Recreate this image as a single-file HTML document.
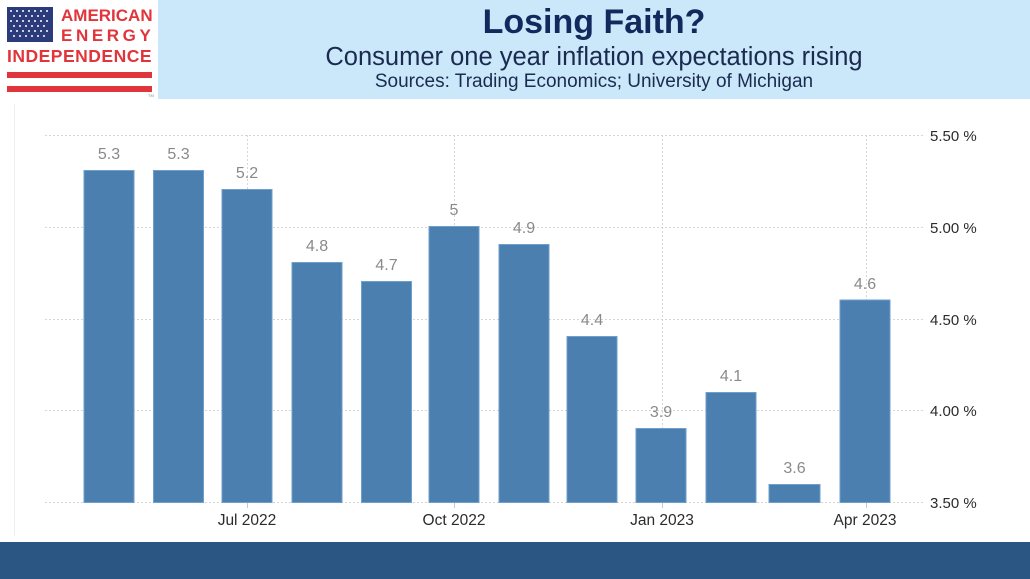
<!DOCTYPE html>
<html>
<head>
<meta charset="utf-8">
<style>
  html,body{margin:0;padding:0;background:#fff;}
  body{width:1030px;height:579px;overflow:hidden;position:relative;font-family:"Liberation Sans",Arial,sans-serif;}
  .hdr{position:absolute;left:158px;top:0;width:872px;height:99px;background:#cbe8fb;}
  .t1{position:absolute;left:158px;width:872px;top:2px;text-align:center;font-weight:bold;font-size:34px;color:#11295c;line-height:40px;}
  .t2{position:absolute;left:158px;width:872px;top:42px;text-align:center;font-size:25.5px;color:#1b2b50;line-height:30px;}
  .t3{position:absolute;left:158px;width:872px;top:71px;text-align:center;font-size:19px;color:#1b2b50;line-height:22px;}
  .footer{position:absolute;left:0;top:542px;width:1030px;height:37px;background:#2b5582;}
  .lg{position:absolute;color:#e0353b;font-weight:bold;white-space:nowrap;}
</style>
</head>
<body>
<div class="hdr"></div>
<div class="t1">Losing Faith?</div>
<div class="t2">Consumer one year inflation expectations rising</div>
<div class="t3">Sources: Trading Economics; University of Michigan</div>

<!-- logo -->
<svg style="position:absolute;left:0;top:0" width="158" height="100">
  <rect x="7" y="7" width="46" height="35" fill="#2c3b7c"/>
  <g fill="#ffffff">
    <circle cx="11" cy="11" r="1"/><circle cx="17" cy="11" r="1"/><circle cx="23" cy="11" r="1"/><circle cx="29" cy="11" r="1"/><circle cx="35" cy="11" r="1"/><circle cx="41" cy="11" r="1"/><circle cx="47" cy="11" r="1"/>
    <circle cx="14" cy="16" r="1"/><circle cx="20" cy="16" r="1"/><circle cx="26" cy="16" r="1"/><circle cx="32" cy="16" r="1"/><circle cx="38" cy="16" r="1"/><circle cx="44" cy="16" r="1"/>
    <circle cx="11" cy="21" r="1"/><circle cx="17" cy="21" r="1"/><circle cx="23" cy="21" r="1"/><circle cx="29" cy="21" r="1"/><circle cx="35" cy="21" r="1"/><circle cx="41" cy="21" r="1"/><circle cx="47" cy="21" r="1"/>
    <circle cx="14" cy="26" r="1"/><circle cx="20" cy="26" r="1"/><circle cx="26" cy="26" r="1"/><circle cx="32" cy="26" r="1"/><circle cx="38" cy="26" r="1"/><circle cx="44" cy="26" r="1"/>
    <circle cx="11" cy="31" r="1"/><circle cx="17" cy="31" r="1"/><circle cx="23" cy="31" r="1"/><circle cx="29" cy="31" r="1"/><circle cx="35" cy="31" r="1"/><circle cx="41" cy="31" r="1"/><circle cx="47" cy="31" r="1"/>
    <circle cx="14" cy="36" r="1"/><circle cx="20" cy="36" r="1"/><circle cx="26" cy="36" r="1"/><circle cx="32" cy="36" r="1"/><circle cx="38" cy="36" r="1"/><circle cx="44" cy="36" r="1"/>
  </g>
  <rect x="7" y="72" width="145" height="6" fill="#e0353b"/>
  <rect x="7" y="86" width="145" height="6" fill="#e0353b"/>
  <text x="148" y="97" font-size="4" fill="#888" font-family="Liberation Sans, sans-serif">TM</text>
</svg>
<div class="lg" style="left:61px;top:6px;font-size:17px;line-height:20px;">AMERICAN</div>
<div class="lg" style="left:61px;top:26px;font-size:17px;line-height:20px;letter-spacing:3.6px;">ENERGY</div>
<div class="lg" style="left:7px;top:46px;font-size:17.5px;line-height:20px;letter-spacing:0.5px;">INDEPENDENCE</div>

<!-- chart -->
<svg style="position:absolute;left:0;top:0" width="1030" height="579" font-family="Liberation Sans, Arial, sans-serif">
  <line x1="14.5" y1="104" x2="14.5" y2="536" stroke="#eeeeee" stroke-width="1"/>
  <g stroke="#d6d6d6" stroke-width="1" stroke-dasharray="2,2">
    <line x1="45" y1="135.5" x2="925" y2="135.5"/>
    <line x1="45" y1="227.5" x2="925" y2="227.5"/>
    <line x1="45" y1="319.5" x2="925" y2="319.5"/>
    <line x1="45" y1="410.5" x2="925" y2="410.5"/>
    <line x1="45" y1="502.5" x2="925" y2="502.5"/>
    <line x1="247.5" y1="135" x2="247.5" y2="502"/>
    <line x1="454.5" y1="135" x2="454.5" y2="502"/>
    <line x1="662.5" y1="135" x2="662.5" y2="502"/>
    <line x1="866.5" y1="135" x2="866.5" y2="502"/>
  </g>
  <g stroke="#c8c8c8" stroke-width="1">
    <line x1="247.5" y1="503" x2="247.5" y2="508"/>
    <line x1="454.5" y1="503" x2="454.5" y2="508"/>
    <line x1="662.5" y1="503" x2="662.5" y2="508"/>
    <line x1="866.5" y1="503" x2="866.5" y2="508"/>
  </g>
  <g fill="#4a7fb0" stroke="#6f9fcb" stroke-width="1">
    <rect x="84" y="170.5" width="50" height="332"/>
    <rect x="153.5" y="170.5" width="50" height="332"/>
    <rect x="222" y="189.5" width="50" height="313"/>
    <rect x="292" y="262.5" width="50" height="240"/>
    <rect x="361.5" y="281.5" width="50" height="221"/>
    <rect x="429" y="226.5" width="50" height="276"/>
    <rect x="499" y="244.5" width="50" height="258"/>
    <rect x="567" y="336.5" width="50" height="166"/>
    <rect x="636" y="428.5" width="50" height="74"/>
    <rect x="706" y="392.5" width="50" height="110"/>
    <rect x="769" y="484.5" width="51" height="18"/>
    <rect x="840" y="300" width="50" height="202.5"/>
  </g>
  <g fill="#8a8a8a" font-size="16" text-anchor="middle">
    <text x="109" y="159">5.3</text>
    <text x="178.5" y="159">5.3</text>
    <text x="247" y="178">5.2</text>
    <text x="317" y="251">4.8</text>
    <text x="386.5" y="270">4.7</text>
    <text x="454" y="215">5</text>
    <text x="524" y="233">4.9</text>
    <text x="592" y="325">4.4</text>
    <text x="661" y="417">3.9</text>
    <text x="731" y="381">4.1</text>
    <text x="794.5" y="473">3.6</text>
    <text x="865" y="289">4.6</text>
  </g>
  <g fill="#2b2b2b" font-size="15">
    <text x="930" y="141">5.50 %</text>
    <text x="930" y="233">5.00 %</text>
    <text x="930" y="325">4.50 %</text>
    <text x="930" y="416">4.00 %</text>
    <text x="930" y="508">3.50 %</text>
  </g>
  <g fill="#2b2b2b" font-size="15.5" text-anchor="middle">
    <text x="247" y="525">Jul 2022</text>
    <text x="454" y="525">Oct 2022</text>
    <text x="662" y="525">Jan 2023</text>
    <text x="865" y="525">Apr 2023</text>
  </g>
</svg>

<div class="footer"></div>
</body>
</html>
